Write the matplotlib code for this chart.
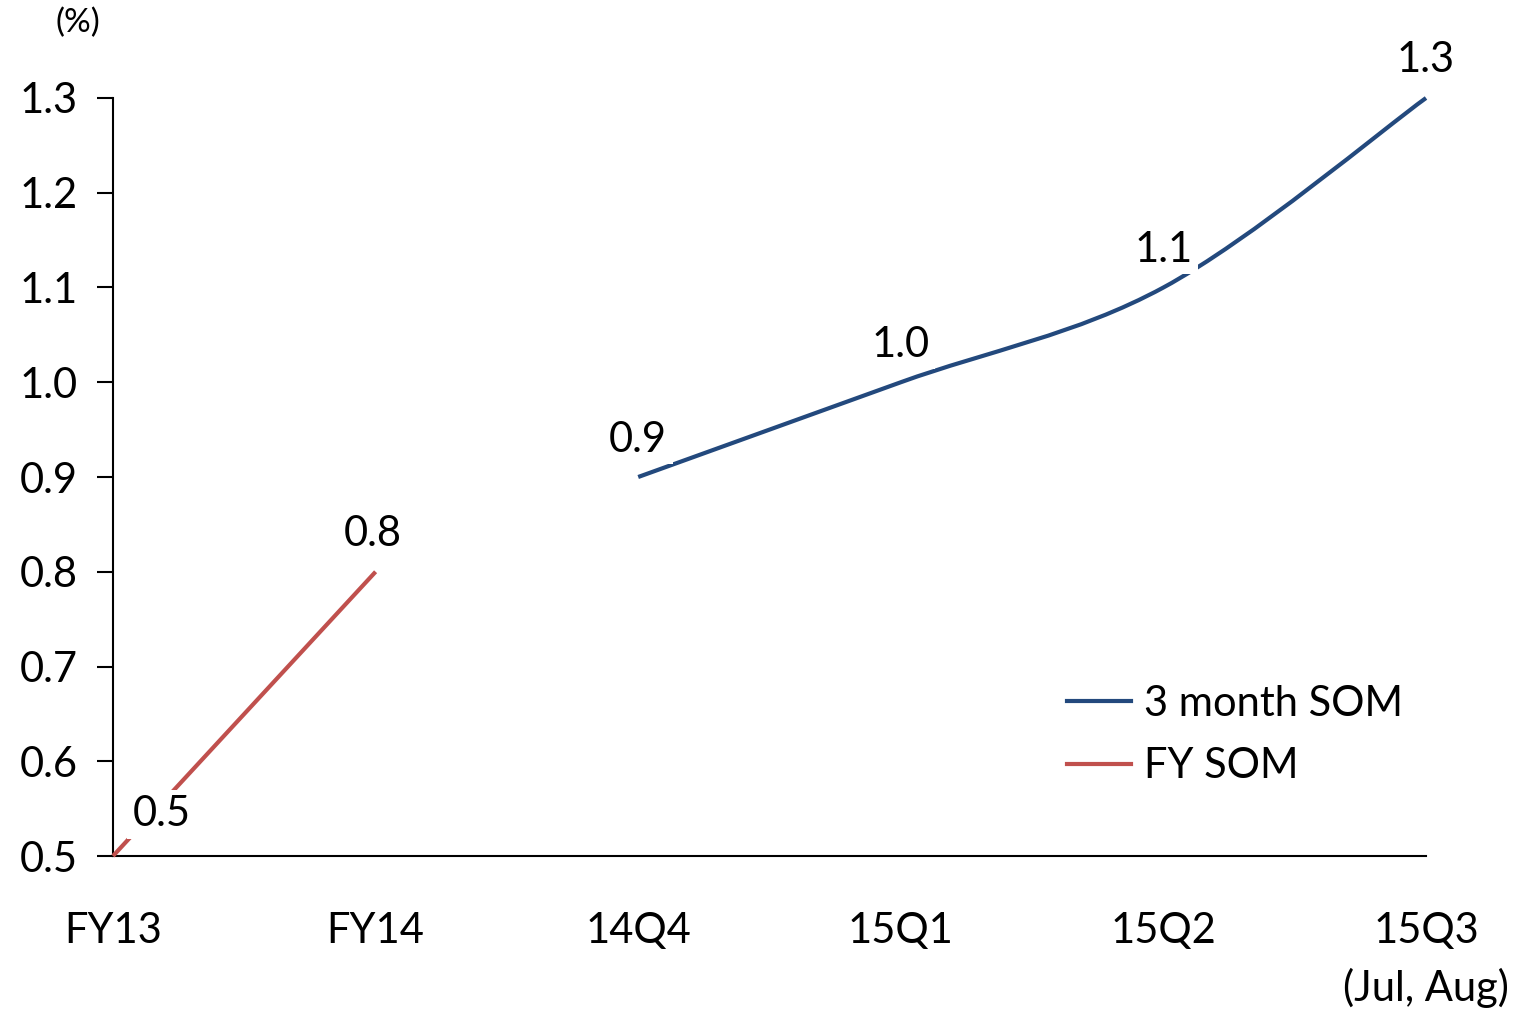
import matplotlib
matplotlib.use("Agg")
import matplotlib.pyplot as plt
from matplotlib.path import Path
from matplotlib.patches import PathPatch
from matplotlib.lines import Line2D

plt.rcParams['font.family'] = ['Lato', 'DejaVu Sans']

categories = ["FY13", "FY14", "14Q4", "15Q1", "15Q2", "15Q3\n(Jul, Aug)"]
fy_x = [0, 1]
fy_som = [0.5, 0.8]
q_x = [2, 3, 4, 5]
q_som = [0.9, 1.0, 1.1, 1.3]
yticks = [0.5, 0.6, 0.7, 0.8, 0.9, 1.0, 1.1, 1.2, 1.3]

BLUE = "#23497D"
RED = "#C0504D"
FS = 30

fig = plt.figure(figsize=(15.21, 10.13), dpi=100)
ax = fig.add_axes([113/1521, 1-856/1013, (1426-113)/1521, (856-98)/1013])
ax.set_xlim(0, 5)
ax.set_ylim(0.5, 1.3)


def smooth_path(xs, ys):
    pts = list(zip(xs, ys))
    n = len(pts)
    verts = [pts[0]]
    codes = [Path.MOVETO]
    for i in range(n - 1):
        p0 = pts[i - 1] if i > 0 else pts[i]
        p1 = pts[i]
        p2 = pts[i + 1]
        p3 = pts[i + 2] if i + 2 < n else pts[i + 1]
        c1 = (p1[0] + (p2[0] - p0[0]) / 6, p1[1] + (p2[1] - p0[1]) / 6)
        c2 = (p2[0] - (p3[0] - p1[0]) / 6, p2[1] - (p3[1] - p1[1]) / 6)
        verts += [c1, c2, p2]
        codes += [Path.CURVE4] * 3
    return Path(verts, codes)


ax.add_patch(PathPatch(smooth_path(q_x, q_som), facecolor="none",
                       edgecolor=BLUE, lw=3, capstyle="butt", zorder=3,
                       clip_on=False))
ax.plot(fy_x, fy_som, color=RED, lw=3, solid_capstyle="butt", zorder=3,
        clip_on=False)

box = dict(facecolor="white", edgecolor="none", pad=4)
for x, v in zip(q_x, q_som):
    ax.annotate(f"{v:.1f}", (x, v), xytext=(0, 27), textcoords="offset points",
                ha="center", va="center", fontsize=FS, bbox=box, zorder=4,
                annotation_clip=False)
for i, (x, v) in enumerate(zip(fy_x, fy_som)):
    dx = 35 if i == 0 else -2
    dy = 30 if i == 0 else 27
    ax.annotate(f"{v:.1f}", (x, v), xytext=(dx, dy), textcoords="offset points",
                ha="center", va="center", fontsize=FS, bbox=box, zorder=4,
                annotation_clip=False)

ax.set_xticks(range(len(categories)))
ax.set_xticklabels(categories, fontsize=FS, linespacing=1.55)
ax.tick_params(axis="x", length=0, pad=40)
ax.set_yticks(yticks)
ax.set_yticklabels([f"{t:.1f}" for t in yticks], fontsize=FS)
ax.tick_params(axis="y", length=11.5, width=1.5, pad=14, direction="out")

for s in ["top", "right"]:
    ax.spines[s].set_visible(False)
for s in ["left", "bottom"]:
    ax.spines[s].set_linewidth(1.5)
ax.spines["bottom"].set_zorder(2)

fig.text(78/1521, 1-23/1013, "(%)", fontsize=24, ha="center", va="center")

handles = [Line2D([], [], color=BLUE, lw=3), Line2D([], [], color=RED, lw=3)]
ax.legend(handles, ["3 month SOM", "FY SOM"], loc="center left",
          bbox_to_anchor=(1050/1521, 1-735/1013), bbox_transform=fig.transFigure,
          frameon=False, fontsize=FS, handlelength=1.55, handletextpad=0.3,
          labelspacing=0.6, borderaxespad=0)

fig.savefig("out.png", dpi=100)
